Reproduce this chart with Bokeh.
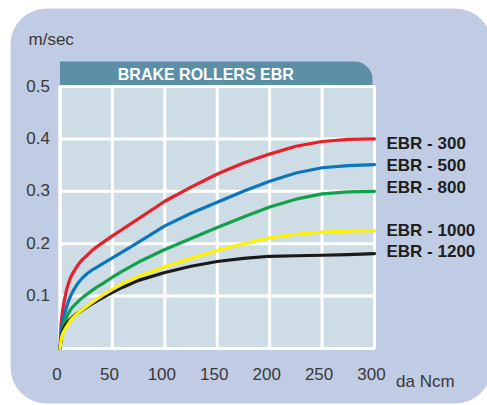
from bokeh.plotting import figure
from bokeh.models import BoxAnnotation, Range1d
from bokeh.embed import file_html
from bokeh.resources import INLINE
from bokeh.core.properties import value

# ---------------- data ----------------
torque = [0, 1, 2, 3, 4, 6, 8, 10, 12, 15, 18, 22, 26, 30, 35, 40, 50, 60, 75, 100,
          125, 150, 175, 200, 225, 250, 275, 300]
ebr_300 = [0, 0.045, 0.065, 0.079, 0.090, 0.110, 0.124, 0.135, 0.143, 0.153, 0.162, 0.171,
           0.178, 0.186, 0.194, 0.201, 0.215, 0.228, 0.248, 0.281, 0.308, 0.333, 0.354,
           0.371, 0.386, 0.395, 0.399, 0.400]
ebr_500 = [0, 0.025, 0.045, 0.055, 0.063, 0.078, 0.090, 0.100, 0.108, 0.118, 0.127, 0.136,
           0.143, 0.149, 0.155, 0.161, 0.173, 0.185, 0.203, 0.234, 0.258, 0.279, 0.300,
           0.319, 0.335, 0.345, 0.349, 0.351]
ebr_800 = [0, 0.015, 0.028, 0.040, 0.048, 0.058, 0.067, 0.074, 0.079, 0.085, 0.091, 0.098,
           0.104, 0.110, 0.117, 0.123, 0.136, 0.148, 0.165, 0.189, 0.210, 0.231, 0.251,
           0.270, 0.285, 0.295, 0.299, 0.300]
ebr_1000 = [0, 0.016, 0.025, 0.030, 0.034, 0.041, 0.047, 0.053, 0.058, 0.064, 0.069, 0.075,
            0.081, 0.087, 0.094, 0.101, 0.113, 0.124, 0.138, 0.156, 0.172, 0.187, 0.200,
            0.211, 0.218, 0.222, 0.224, 0.225]
ebr_1200 = [0, 0.018, 0.030, 0.036, 0.040, 0.047, 0.052, 0.056, 0.060, 0.065, 0.069, 0.074,
            0.0795, 0.0845, 0.0905, 0.096, 0.107, 0.117, 0.130, 0.145, 0.157, 0.166, 0.172,
            0.176, 0.177, 0.178, 0.179, 0.181]

series_names = ["EBR - 300", "EBR - 500", "EBR - 800", "EBR - 1000", "EBR - 1200"]
series_values = [ebr_300, ebr_500, ebr_800, ebr_1000, ebr_1200]

x_ticks = [0, 50, 100, 150, 200, 250, 300]
x_tick_labels = ["0", "50", "100", "150", "200", "250", "300"]
y_ticks = [0.1, 0.2, 0.3, 0.4, 0.5]
y_tick_labels = ["0.1", "0.2", "0.3", "0.4", "0.5"]
chart_title = "BRAKE ROLLERS  EBR"
x_unit = "da Ncm"
y_unit = "m/sec"

# ---------------- styling / layout ----------------
colors = ["#e8202a", "#0a76be", "#12a14b", "#fff200", "#1a1a1a"]
label_y_offsets = [5, 1, -4, 0, -2]   # px nudges for the right-hand labels
draw_order = [0, 1, 2, 4, 3]          # yellow over black near the origin
FONT = value("Liberation Sans")
OUTER_BG = "#c0cce3"
PLOT_BG = "#cddce5"
BAR = "#5b8fa6"
TEXT = "#383838"

W, H = 487, 405
# pixel geometry of the plotting area inside the canvas
PX_LEFT, PX_BOTTOM = 59.5, 348.0
PX_PER_X = 314.5 / 300.0
PX_PER_Y = 524.0


def dx(px):
    return (px - PX_LEFT) / PX_PER_X


def dy(py):
    return (PX_BOTTOM - py) / PX_PER_Y


p = figure(width=W, height=H, output_backend="svg", toolbar_location=None,
           x_range=Range1d(dx(0), dx(W)), y_range=Range1d(dy(H), dy(0)),
           x_axis_type=None, y_axis_type=None, title=None,
           min_border=0, min_border_left=0, min_border_right=0,
           min_border_top=0, min_border_bottom=0)
p.border_fill_color = "white"
p.background_fill_color = "white"
p.outline_line_color = None

# rounded light-blue panel behind everything
p.add_layout(BoxAnnotation(left=dx(10), right=dx(491), top=dy(8), bottom=dy(403),
                           fill_color=OUTER_BG, fill_alpha=1, line_alpha=0,
                           border_radius=36, level="image"))

xmin, xmax = x_ticks[0], x_ticks[-1]
ymin, ymax = 0, y_ticks[-1]

# title bar above the plotting area
p.add_layout(BoxAnnotation(left=xmin, right=dx(372), bottom=ymax, top=dy(61),
                           fill_color=BAR, fill_alpha=1, line_alpha=0,
                           border_radius=(0, 18, 0, 0), level="underlay"))

# plotting area with white frame
p.quad(left=[xmin], right=[xmax], bottom=[ymin], top=[ymax],
       fill_color=PLOT_BG, line_color="white", line_width=3)
# white grid
p.segment(x0=x_ticks, y0=[ymin] * len(x_ticks), x1=x_ticks, y1=[ymax] * len(x_ticks),
          line_color="white", line_width=3)
p.segment(x0=[xmin] * len(y_ticks), y0=y_ticks, x1=[xmax] * len(y_ticks), y1=y_ticks,
          line_color="white", line_width=3)

# curves
for i in draw_order:
    p.line(torque, series_values[i], line_color=colors[i], line_width=3.2,
           line_cap="round", line_join="round")

# tick labels
p.text(x=x_ticks, y=[ymin] * len(x_ticks), text=x_tick_labels, x_offset=-3, y_offset=25,
       text_font=FONT, text_font_size="17px", text_color=TEXT,
       text_align="center", text_baseline="middle")
p.text(x=[xmin] * len(y_ticks), y=y_ticks, text=y_tick_labels, x_offset=-10, y_offset=-1,
       text_font=FONT, text_font_size="17px", text_color=TEXT,
       text_align="right", text_baseline="middle")

# unit labels
p.text(x=[xmin], y=[ymax], text=[y_unit], x_offset=-31.5, y_offset=-47.5,
       text_font=FONT, text_font_size="17px", text_color=TEXT,
       text_align="left", text_baseline="alphabetic")
p.text(x=[xmax], y=[ymin], text=[x_unit], x_offset=21.5, y_offset=33,
       text_font=FONT, text_font_size="17px", text_color=TEXT,
       text_align="left", text_baseline="alphabetic")

# series labels at the right end of each curve
p.text(x=[torque[-1]] * len(series_names), y=[s[-1] for s in series_values],
       text=series_names, x_offset=12, y_offset=label_y_offsets,
       text_font=FONT, text_font_size="17px", text_font_style="bold",
       text_color="#1e1e1e", text_align="left", text_baseline="middle")

# chart title inside the bar
p.text(x=[xmin], y=[ymax], text=[chart_title], x_offset=148, y_offset=-12,
       text_font=FONT, text_font_size="16px", text_font_style="bold",
       text_color="white", text_align="center", text_baseline="middle")

open("out.html", "w").write(file_html(p, INLINE))
